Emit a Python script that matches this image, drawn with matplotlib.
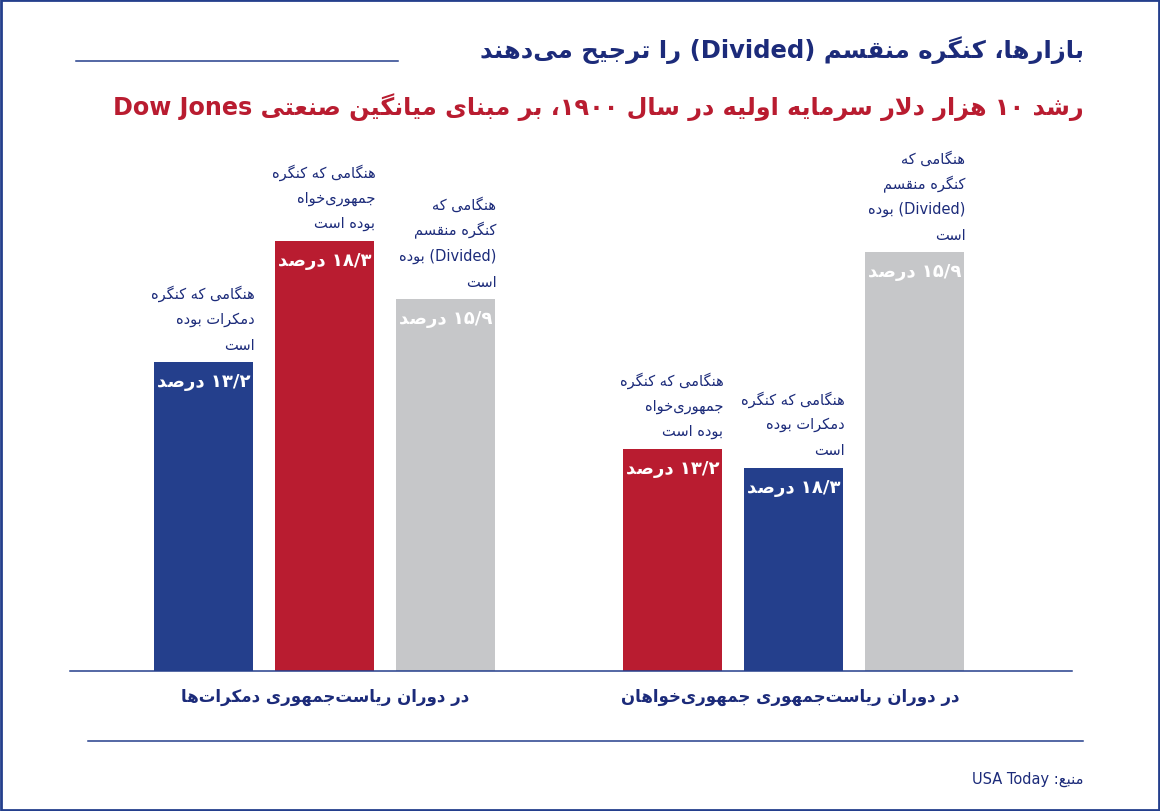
import re
import matplotlib
matplotlib.use("Agg")
import matplotlib.pyplot as plt
from matplotlib.lines import Line2D
from matplotlib.patches import Rectangle

# ---------------- data ----------------
groups = ["در دوران ریاست\u200cجمهوری دمکرات\u200cها",
          "در دوران ریاست\u200cجمهوری جمهوری\u200cخواهان"]
# bar heights (as drawn in the reference) per group
left_heights = [13.2, 18.4, 15.9]
right_heights = [9.5, 8.7, 17.9]
left_labels = ["۱۳/۲ درصد", "۱۸/۳ درصد", "۱۵/۹ درصد"]
right_labels = ["۱۳/۲ درصد", "۱۸/۳ درصد", "۱۵/۹ درصد"]
left_notes = [["هنگامی که کنگره", "دمکرات بوده", "است"],
              ["هنگامی که کنگره", "جمهوری\u200cخواه", "بوده است"],
              ["هنگامی که", "کنگره منقسم", "(Divided) بوده", "است"]]
right_notes = [["هنگامی که کنگره", "جمهوری\u200cخواه", "بوده است"],
               ["هنگامی که کنگره", "دمکرات بوده", "است"],
               ["هنگامی که", "کنگره منقسم", "(Divided) بوده", "است"]]
title = "بازارها، کنگره منقسم (Divided) را ترجیح می\u200cدهند"
subtitle = "رشد ۱۰ هزار دلار سرمایه اولیه در سال ۱۹۰۰، بر مبنای میانگین صنعتی Dow Jones"
source = "منبع: USA Today"

NAVY = "#1c2b7a"
BLUE = "#243f8c"
RED = "#b91c30"
GRAY = "#c6c7c9"
left_colors = [BLUE, RED, GRAY]
right_colors = [RED, BLUE, GRAY]

# ---------------- minimal Persian shaping + bidi ----------------
DUAL = {'ئ': 0xFE89, 'ب': 0xFE8F, 'ت': 0xFE95, 'ث': 0xFE99, 'ج': 0xFE9D, 'ح': 0xFEA1,
        'خ': 0xFEA5, 'س': 0xFEB1, 'ش': 0xFEB5, 'ص': 0xFEB9, 'ض': 0xFEBD, 'ط': 0xFEC1,
        'ظ': 0xFEC5, 'ع': 0xFEC9, 'غ': 0xFECD, 'ف': 0xFED1, 'ق': 0xFED5, 'ك': 0xFED9,
        'ل': 0xFEDD, 'م': 0xFEE1, 'ن': 0xFEE5, 'ه': 0xFEE9, 'ي': 0xFEF1, 'پ': 0xFB56,
        'چ': 0xFB7A, 'ک': 0xFB8E, 'گ': 0xFB92, 'ی': 0xFBFC}
RIGHT = {'آ': 0xFE81, 'أ': 0xFE83, 'ؤ': 0xFE85, 'إ': 0xFE87, 'ا': 0xFE8D, 'ة': 0xFE93,
         'د': 0xFEA9, 'ذ': 0xFEAB, 'ر': 0xFEAD, 'ز': 0xFEAF, 'و': 0xFEED, 'ژ': 0xFB8A,
         'ى': 0xFEEF}
LAM_ALEF = {'ا': 0xFEFB, 'آ': 0xFEF5, 'أ': 0xFEF7, 'إ': 0xFEF9}


def shape(s):
    out = []
    i, n = 0, len(s)
    while i < n:
        c = s[i]
        prev = s[i - 1] if i > 0 else None
        pj = prev is not None and prev in DUAL
        if c == 'ل' and i + 1 < n and s[i + 1] in LAM_ALEF:
            b = LAM_ALEF[s[i + 1]]
            out.append(chr(b + 1 if pj else b))
            i += 2
            continue
        if c in DUAL or c in RIGHT:
            nxt = s[i + 1] if i + 1 < n else None
            nj = c in DUAL and nxt is not None and (nxt in DUAL or nxt in RIGHT)
            b = DUAL.get(c, RIGHT.get(c))
            f = 3 if (pj and nj) else 1 if pj else 2 if nj else 0
            out.append(chr(b + f))
        elif c == '\u200c':
            pass
        else:
            out.append(c)
        i += 1
    return ''.join(out)


LTR = re.compile(r'\(?[A-Za-z0-9\u06F0-\u06F9]+(?:[ /.][A-Za-z0-9\u06F0-\u06F9]+)*\)?')


def fa(text):
    segs = []
    pos = 0
    for m in LTR.finditer(text):
        if m.start() > pos:
            segs.append(shape(text[pos:m.start()])[::-1])
        segs.append(m.group(0))
        pos = m.end()
    if pos < len(text):
        segs.append(shape(text[pos:])[::-1])
    return ''.join(segs[::-1])


plt.rcParams['font.family'] = ['DejaVu Sans']

# ---------------- figure ----------------
W, H = 1160, 812
fig = plt.figure(figsize=(W / 100, H / 100), dpi=100)


def fx(x):
    return x / W


def fy(y):
    return 1 - y / H


PX = 0.72  # points per pixel
X0, X1, BASE, TOP = 70, 1072, 672, 140
UNIT = 23.39  # pixels per value unit
ax = fig.add_axes([fx(X0), fy(BASE), (X1 - X0) / W, (BASE - TOP) / H])
ax.set_xlim(X0, X1)
ax.set_ylim(0, (BASE - TOP) / UNIT)
ax.axis('off')

group_centers = [325, 794]
step = 121
bar_w = 99

for gc, heights, labels, notes, colors in [
        (group_centers[0], left_heights, left_labels, left_notes, left_colors),
        (group_centers[1], right_heights, right_labels, right_notes, right_colors)]:
    xs = [gc + (i - 1) * step for i in range(len(heights))]
    ax.bar(xs, heights, width=bar_w, color=colors, zorder=2)
    for x, h, lab, lines in zip(xs, heights, labels, notes):
        ax.annotate(fa(lab), xy=(x, h), xytext=(0, -19 * PX), textcoords='offset points',
                    ha='center', va='center', color='white', fontsize=13,
                    fontweight='bold', zorder=3)
        for k, line in enumerate(reversed(lines)):
            ax.annotate(fa(line), xy=(x + bar_w / 2, h),
                        xytext=(1 * PX, (18 + 25.6 * k) * PX), textcoords='offset points',
                        ha='right', va='center', color=NAVY, fontsize=10.5)

# baseline
fig.add_artist(Line2D([fx(70), fx(1072)], [fy(672), fy(672)], color=BLUE, lw=1.1))
# group labels
for gc, g in zip([325, 790], groups):
    fig.text(fx(gc), fy(697), fa(g), ha='center', va='center', color=NAVY,
             fontsize=12, fontweight='bold')

# titles
fig.text(fx(1084), fy(50), fa(title), ha='right', va='center', color=NAVY,
         fontsize=17.5, fontweight='bold')
fig.add_artist(Line2D([fx(76), fx(398)], [fy(61.5), fy(61.5)], color=BLUE, lw=1.1))
fig.text(fx(1084), fy(107), fa(subtitle), ha='right', va='center', color=RED,
         fontsize=17.2, fontweight='bold')

# bottom rule and source
fig.add_artist(Line2D([fx(88), fx(1083)], [fy(742), fy(742)], color=BLUE, lw=1.1))
fig.text(fx(1084), fy(779), fa(source), ha='right', va='center', color=NAVY, fontsize=10.5)

# border
fig.add_artist(Rectangle((0.0008, 0.0012), 0.9984, 0.9976, transform=fig.transFigure,
                         fill=False, edgecolor=BLUE, lw=2))

fig.savefig("out.png", dpi=100)
